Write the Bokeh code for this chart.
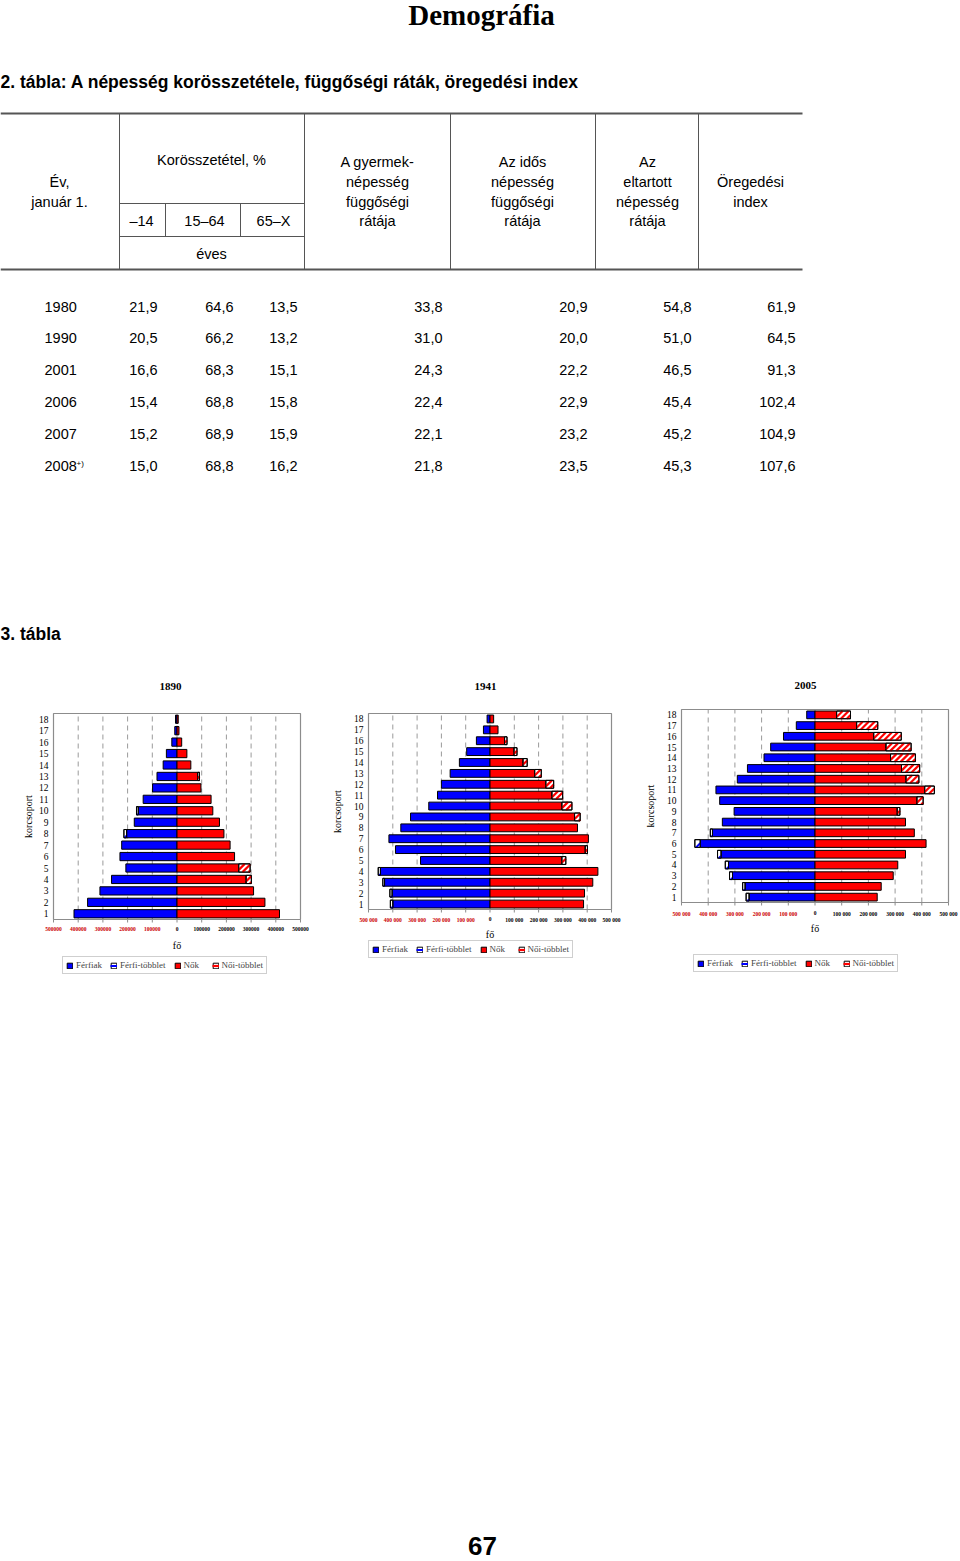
from bokeh.plotting import figure
from bokeh.models import Range1d, Legend, LegendItem, ColumnDataSource
from bokeh.layouts import column, row
from bokeh.core.properties import value
from bokeh.embed import file_html
from bokeh.resources import INLINE

# ---------------- data ----------------
page_title = "Demográfia"
table_title = "2. tábla: A népesség korösszetétele, függőségi ráták, öregedési index"
section_title = "3. tábla"
page_number = "67"

years = ["1980", "1990", "2001", "2006", "2007", "2008"]
year_notes = ["", "", "", "", "", "+)"]
share_0_14 = [21.9, 20.5, 16.6, 15.4, 15.2, 15.0]
share_15_64 = [64.6, 66.2, 68.3, 68.8, 68.9, 68.8]
share_65_x = [13.5, 13.2, 15.1, 15.8, 15.9, 16.2]
child_dependency = [33.8, 31.0, 24.3, 22.4, 22.1, 21.8]
old_dependency = [20.9, 20.0, 22.2, 22.9, 23.2, 23.5]
total_dependency = [54.8, 51.0, 46.5, 45.4, 45.2, 45.3]
ageing_index = [61.9, 64.5, 91.3, 102.4, 104.9, 107.6]

ages = [1, 2, 3, 4, 5, 6, 7, 8, 9, 10, 11, 12, 13, 14, 15, 16, 17, 18]
x_ticks = [-500000, -400000, -300000, -200000, -100000, 0, 100000, 200000, 300000, 400000, 500000]
legend_labels = ["Férfiak", "Férfi-többlet", "Nők", "Női-többlet"]
x_axis_title = "fő"
y_axis_title = "korcsoport"

men_1890 = [417000, 362000, 312000, 265000, 207000, 231000, 224000, 204000, 173000, 157000, 137000, 99000, 81000, 56000, 43000, 21000, 9000, 6000]
men_extra_1890 = [0, 0, 0, 0, 0, 0, 0, 11000, 0, 7000, 0, 0, 0, 0, 0, 0, 0, 0]
women_1890 = [415000, 356000, 310000, 280000, 250000, 233000, 215000, 190000, 172000, 145000, 138000, 97000, 84000, 56000, 40000, 19000, 8000, 5000]
women_extra_1890 = [0, 0, 0, 21000, 46000, 0, 0, 0, 0, 0, 0, 0, 7000, 0, 0, 0, 0, 0]

men_1941 = [400000, 403000, 434000, 451000, 286000, 389000, 416000, 367000, 327000, 252000, 216000, 200000, 164000, 126000, 96000, 56000, 27000, 12000]
men_extra_1941 = [10000, 9000, 7000, 9000, 0, 0, 0, 0, 0, 0, 0, 0, 0, 0, 0, 0, 0, 0]
women_1941 = [385000, 389000, 423000, 444000, 296000, 392000, 405000, 360000, 348000, 296000, 255000, 230000, 184000, 136000, 99000, 60000, 33000, 15000]
women_extra_1941 = [0, 0, 0, 0, 16000, 9000, 0, 0, 23000, 41000, 44000, 32000, 27000, 17000, 12000, 10000, 0, 0]

men_2005 = [247000, 262000, 309000, 324000, 352000, 430000, 384000, 347000, 303000, 357000, 371000, 291000, 253000, 191000, 166000, 118000, 70000, 31000]
men_extra_2005 = [11000, 9000, 11000, 12000, 13000, 20000, 8000, 0, 0, 0, 0, 0, 0, 0, 0, 0, 0, 0]
women_2005 = [233000, 248000, 293000, 310000, 339000, 416000, 372000, 339000, 308000, 382000, 411000, 341000, 324000, 283000, 266000, 220000, 156000, 81000]
women_extra_2005 = [0, 0, 0, 0, 0, 0, 0, 0, 10000, 23000, 36000, 48000, 68000, 93000, 94000, 103000, 79000, 52000]

# ---------------- styles ----------------
SANS = "Liberation Sans"
SERIF = "Liberation Serif"
W = 960
BAR_H = 0.72


def fmt(v):
    return f"{v:.1f}".replace(".", ",")


def txt(fig, xs, ys, texts, size, font, style="normal", align="center", color="black", baseline="middle", angle=0.0):
    fig.text(x=xs, y=ys, text=texts, text_font=value(font), text_font_size=value(f"{size}px"),
             text_font_style=style, text_align=align, text_baseline=baseline, text_color=color, angle=angle)


# ---------------- top: title + table ----------------
top = figure(width=W, height=660, x_range=Range1d(0, W), y_range=Range1d(660, 0),
             x_axis_type=None, y_axis_type=None, output_backend="svg", toolbar_location=None,
             min_border=0)
top.outline_line_color = None

txt(top, [481], [14], [page_title], 29, SERIF, "bold")
txt(top, [0], [81], [table_title], 17.5, SANS, "bold", align="left")
txt(top, [0], [633], [section_title], 17.5, SANS, "bold", align="left")

top.segment(x0=[0, 0], y0=[113, 269], x1=[802, 802], y1=[113, 269], line_color="#555555", line_width=2)
top.segment(x0=[119, 119], y0=[203, 236], x1=[304, 304], y1=[203, 236], line_color="#555555", line_width=1)
vx = [119, 304, 450, 595, 698]
top.segment(x0=vx, y0=[113] * 5, x1=vx, y1=[269] * 5, line_color="#555555", line_width=1)
top.segment(x0=[165, 240], y0=[203, 203], x1=[165, 240], y1=[236, 236], line_color="#555555", line_width=1)

hdr_x = [59, 59, 211, 141, 204, 273, 211,
         377, 377, 377, 377, 522, 522, 522, 522, 647, 647, 647, 647, 750, 750]
hdr_y = [181, 201, 159, 220, 220, 220, 253,
         161, 181, 201, 220, 161, 181, 201, 220, 161, 181, 201, 220, 181, 201]
hdr_t = ["Év,", "január 1.", "Korösszetétel, %", "–14", "15–64", "65–X", "éves",
         "A gyermek-", "népesség", "függőségi", "rátája",
         "Az idős", "népesség", "függőségi", "rátája",
         "Az", "eltartott", "népesség", "rátája",
         "Öregedési", "index"]
txt(top, hdr_x, hdr_y, hdr_t, 14.5, SANS)

row_y = [306 + i * 31.8 for i in range(len(years))]
txt(top, [44] * len(years), row_y, years, 14.5, SANS, align="left")
txt(top, [76] * len(years), [y - 2 for y in row_y], year_notes, 8, SANS, align="left")
cols = [share_0_14, share_15_64, share_65_x, child_dependency, old_dependency, total_dependency, ageing_index]
col_right = [157, 233, 297, 442, 587, 691, 795]
for cx, vals in zip(col_right, cols):
    txt(top, [cx] * len(vals), row_y, [fmt(v) for v in vals], 14.5, SANS, align="right")


# ---------------- pyramids ----------------
def tick_text(t, sep):
    s = str(abs(t))
    if sep and len(s) > 3:
        s = s[:-3] + " " + s[-3:]
    return s


def stripe_segments(lefts, rights, ys, sx, sy, spacing):
    H = BAR_H * sy
    out = dict(x0=[], y0=[], x1=[], y1=[])
    for a, b, y in zip(lefts, rights, ys):
        lo, hi = min(a, b) * sx, max(a, b) * sx
        k = 0
        while True:
            xs = lo - H + k * spacing
            if xs >= hi:
                break
            tl = max(0.0, (lo - xs) / H)
            th = min(1.0, (hi - xs) / H)
            if th > tl:
                out["x0"].append((xs + H * tl) / sx)
                out["y0"].append(y - BAR_H / 2 + BAR_H * tl)
                out["x1"].append((xs + H * th) / sx)
                out["y1"].append(y - BAR_H / 2 + BAR_H * th)
            k += 1
    return out


def pyramid(year_label, men, men_extra, women, women_extra, sep, box, offs, legend_loc):
    # box: pixel margins of the plotting box inside the 320x330 figure (left, right, top, bottom)
    bl, br, bt, bb = box
    tick_off, fo_off, ylab_off, ytitle_off, title_off, title_x = offs
    fw = 320 - bl - br
    fh = 330 - bt - bb
    xmin, xmax = x_ticks[0], x_ticks[-1]
    ymin, ymax = ages[0] - 0.5, ages[-1] + 0.5
    kx = (xmax - xmin) / fw          # data units per pixel
    ky = (ymax - ymin) / fh
    sx, sy = 1.0 / kx, 1.0 / ky      # pixels per data unit
    p = figure(width=320, height=330,
               x_range=Range1d(xmin - bl * kx, xmax + br * kx),
               y_range=Range1d(ymin - bb * ky, ymax + bt * ky),
               x_axis_type=None, y_axis_type=None, output_backend="svg", toolbar_location=None,
               min_border=0)
    p.outline_line_color = None

    # dashed vertical grid lines
    inner = [t for t in x_ticks if xmin < t < xmax]
    p.segment(x0=inner, y0=[ymin] * len(inner), x1=inner, y1=[ymax] * len(inner),
              line_color="#9a9a9a", line_dash="5 4", line_width=1)

    src_m = ColumnDataSource(dict(age=ages, left=[-v for v in men]))
    r_m = p.hbar(y="age", left="left", right=0, height=BAR_H, source=src_m,
                 fill_color="#0000ff", line_color="black", line_width=1)
    src_w = ColumnDataSource(dict(age=ages, right=women))
    r_w = p.hbar(y="age", left=0, right="right", height=BAR_H, source=src_w,
                 fill_color="#ff0000", line_color="black", line_width=1)

    mi = [i for i, e in enumerate(men_extra) if e > 0]
    me = dict(age=[ages[i] for i in mi], left=[-(men[i] + men_extra[i]) for i in mi], right=[-men[i] for i in mi])
    r_me = p.hbar(y="age", left="left", right="right", height=BAR_H, source=ColumnDataSource(me),
                  fill_color="white", line_color="black", line_width=1)
    st_m = stripe_segments(me["left"], me["right"], me["age"], sx, sy, 9)
    r_mes = p.segment(x0="x0", y0="y0", x1="x1", y1="y1", source=ColumnDataSource(st_m),
                      line_color="#0000ff", line_width=2)

    wi = [i for i, e in enumerate(women_extra) if e > 0]
    we = dict(age=[ages[i] for i in wi], left=[women[i] for i in wi], right=[women[i] + women_extra[i] for i in wi])
    r_we = p.hbar(y="age", left="left", right="right", height=BAR_H, source=ColumnDataSource(we),
                  fill_color="white", line_color="black", line_width=1)
    st_w = stripe_segments(we["left"], we["right"], we["age"], sx, sy, 6)
    r_wes = p.segment(x0="x0", y0="y0", x1="x1", y1="y1", source=ColumnDataSource(st_w),
                      line_color="#ff0000", line_width=2.2)
    p.hbar(y="age", left="left", right="right", height=BAR_H, source=ColumnDataSource(me),
           fill_color=None, line_color="black", line_width=1)
    p.hbar(y="age", left="left", right="right", height=BAR_H, source=ColumnDataSource(we),
           fill_color=None, line_color="black", line_width=1)

    # plotting box, tick marks and tick labels
    p.quad(left=[xmin], right=[xmax], bottom=[ymin], top=[ymax], fill_color=None,
           line_color="#8c8c8c", line_width=1.2)
    n = len(x_ticks)
    p.segment(x0=x_ticks, y0=[ymin] * n, x1=x_ticks, y1=[ymin - 3 * ky] * n,
              line_color="#8c8c8c", line_width=1)
    txt(p, x_ticks, [ymin - tick_off * ky] * n, [tick_text(t, sep) for t in x_ticks], 5.5, SERIF, "bold",
        color=["#cc0000" if t < 0 else "black" for t in x_ticks], baseline="top")
    txt(p, [0], [ymin - fo_off * ky], [x_axis_title], 10, SERIF)

    txt(p, [xmin - ylab_off * kx] * len(ages), ages, [str(a) for a in ages], 9.5, SERIF, align="right")
    txt(p, [xmin - ytitle_off * kx], [(ymin + ymax) / 2], [y_axis_title], 10, SERIF, angle=1.5708)
    txt(p, [xmin - bl * kx + title_x * kx], [ymax + title_off * ky], [year_label], 11, SERIF, "bold")

    legend = Legend(items=[LegendItem(label=legend_labels[0], renderers=[r_m]),
                           LegendItem(label=legend_labels[1], renderers=[r_me, r_mes]),
                           LegendItem(label=legend_labels[2], renderers=[r_w]),
                           LegendItem(label=legend_labels[3], renderers=[r_we, r_wes])],
                    orientation="horizontal", location=legend_loc,
                    label_text_font=SERIF, label_text_font_size="9px",
                    glyph_width=7, glyph_height=7, label_standoff=3, spacing=8,
                    padding=3, margin=0, border_line_color="#a0a0a0", label_height=10)
    p.add_layout(legend)
    return p


p1 = pyramid("1890", men_1890, men_extra_1890, women_1890, women_extra_1890, False,
             (53, 20, 53, 71), (7, 26, 5, 25, 27, 170), (62, 16))
p2 = pyramid("1941", men_1941, men_extra_1941, women_1941, women_extra_1941, True,
             (48, 29, 53, 81), (7, 25, 5, 31, 27, 165), (48, 32))
p3 = pyramid("2005", men_2005, men_extra_2005, women_2005, women_extra_2005, True,
             (41, 12, 49, 88), (8, 26, 5, 31, 24, 165), (53, 18))

# ---------------- bottom: page number ----------------
bottom = figure(width=W, height=571, x_range=Range1d(0, W), y_range=Range1d(571, 0),
                x_axis_type=None, y_axis_type=None, output_backend="svg", toolbar_location=None,
                min_border=0)
bottom.outline_line_color = None
txt(bottom, [482], [555], [page_number], 26, SANS, "bold")

layout = column(top, row(p1, p2, p3), bottom)
open("out.html", "w").write(file_html(layout, INLINE, title=page_title))
